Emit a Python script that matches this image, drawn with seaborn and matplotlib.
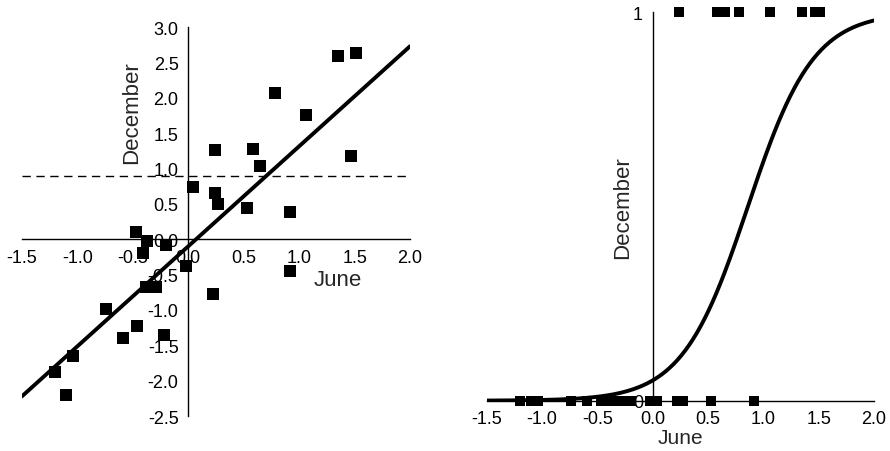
import numpy as np
import pandas as pd
import seaborn as sns
import matplotlib.pyplot as plt

# values
june = [1.35, 1.51, 0.78, 1.06, 0.24, 0.58, 1.47, 0.65, 0.04, 0.24, 0.27, 0.53, 0.92,
        -0.47, -0.37, -0.20, -0.41, -0.02, 0.92, 0.22, -0.38, -0.29, -0.74, -0.46,
        -0.59, -0.22, -1.04, -1.20, -1.10]
december = [2.59, 2.63, 2.07, 1.76, 1.26, 1.27, 1.18, 1.04, 0.74, 0.66, 0.50, 0.44, 0.39,
            0.10, -0.03, -0.08, -0.20, -0.38, -0.45, -0.78, -0.67, -0.67, -0.98, -1.23,
            -1.40, -1.36, -1.65, -1.88, -2.20]
threshold = 0.9

# fitted lines (linear and logistic) as shown in the reference
lin_intercept, lin_slope = -0.10, 1.414
logit_intercept, logit_slope = -2.90, 3.37

x_ticks = [-1.5, -1.0, -0.5, 0.0, 0.5, 1.0, 1.5, 2.0]
y_ticks_left = [-2.5, -2.0, -1.5, -1.0, -0.5, 0.0, 0.5, 1.0, 1.5, 2.0, 2.5, 3.0]
y_ticks_right = [0, 1]

df = pd.DataFrame({"June": june, "December": december})
df["above"] = (df["December"] > threshold).astype(int)

sns.set_style("white")
plt.rcParams["font.family"] = ["Liberation Sans", "DejaVu Sans"]
plt.rcParams["xtick.direction"] = "out"
plt.rcParams["ytick.direction"] = "out"

fig = plt.figure(figsize=(8.9, 4.52), dpi=100)
ax1 = fig.add_axes([0.0247, 0.0774, 0.436, 0.8606])
ax2 = fig.add_axes([0.5468, 0.1113, 0.4352, 0.8593])


def style_axes(ax):
    ax.spines["left"].set_position(("data", 0))
    ax.spines["bottom"].set_position(("data", 0))
    ax.spines["top"].set_visible(False)
    ax.spines["right"].set_visible(False)
    for s in ("left", "bottom"):
        ax.spines[s].set_linewidth(1.0)
        ax.spines[s].set_color("black")
    ax.tick_params(axis="both", length=3.5, width=1.0, labelsize=13, colors="black")
    ax.set_facecolor("none")


# left panel: linear regression
style_axes(ax1)
ax1.axhline(threshold, color="black", lw=1.0, dashes=(6, 4), zorder=1)
line_x = np.array([x_ticks[0], x_ticks[-1]])
sns.lineplot(x=line_x, y=lin_intercept + lin_slope * line_x, ax=ax1,
             color="black", lw=2.8, zorder=2)
sns.scatterplot(data=df, x="June", y="December", ax=ax1, marker="s", s=65,
                color="black", edgecolor="black", linewidth=0, zorder=3, clip_on=False)
ax1.set_xlim(-1.5, 2.0)
ax1.set_ylim(-2.5, 3.0)
ax1.set_xticks(x_ticks)
ax1.set_xticklabels([f"{t:.1f}" for t in x_ticks])
ax1.set_yticks(y_ticks_left)
ax1.set_yticklabels([f"{t:.1f}" for t in y_ticks_left])
ax1.set_xlabel("June", fontsize=16)
ax1.set_ylabel("December", fontsize=16)
ax1.xaxis.set_label_coords(0.814, 0.378)
ax1.yaxis.set_label_coords(0.309, 0.783)

# right panel: logistic regression
style_axes(ax2)
curve_x = np.linspace(x_ticks[0], x_ticks[-1], 200)
curve_y = 1 / (1 + np.exp(-(logit_intercept + logit_slope * curve_x)))
sns.lineplot(x=curve_x, y=curve_y, ax=ax2, color="black", lw=2.8, zorder=2)
sns.scatterplot(data=df, x="June", y="above", ax=ax2, marker="s", s=55,
                color="black", edgecolor="black", linewidth=0, zorder=3, clip_on=False)
ax2.set_xlim(-1.5, 2.0)
ax2.set_ylim(0, 1)
ax2.set_xticks(x_ticks)
ax2.set_xticklabels([f"{t:.1f}" for t in x_ticks])
ax2.set_yticks(y_ticks_right)
ax2.set_yticklabels([str(t) for t in y_ticks_right])
ax2.set_xlabel("June", fontsize=15)
ax2.set_ylabel("December", fontsize=16)
ax2.xaxis.set_label_coords(0.499, -0.07)
ax2.yaxis.set_label_coords(0.378, 0.50)

fig.savefig("out.png", dpi=100)
